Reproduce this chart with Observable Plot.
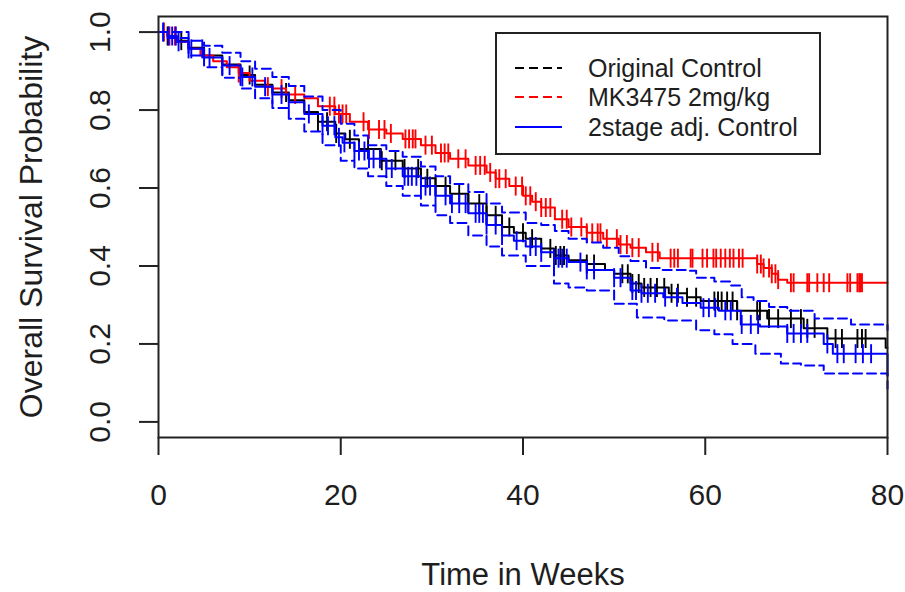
<!DOCTYPE html>
<html><head><meta charset="utf-8">
<script src="https://cdn.jsdelivr.net/npm/d3@7"></script>
<script src="https://cdn.jsdelivr.net/npm/@observablehq/plot@0.6"></script>
<style>
body{margin:0;background:#fff;}
#wrap{position:relative;width:905px;height:592px;overflow:hidden;}
#overlay{position:absolute;left:0;top:0;pointer-events:none;}
</style></head><body><div id="wrap"></div>
<script>
// ---- data ----
const xTicks = [0, 20, 40, 60, 80];
const yTicks = [0, 0.2, 0.4, 0.6, 0.8, 1.0];

// Original Control (black)
const blackT = [0,1,2,3.3,5,7,9,10.6,12.5,14.3,16,17.5,19.4,20.5,22,24.4,26.8,28.8,30.4,32,34,36,37.7,39,40.3,42,43.4,45,47,49,50,51.8,53,56,58,59.5,63.5,66.8,70.8,73.4,79.8,80];
const blackS = [1,0.99,0.978,0.96,0.94,0.917,0.89,0.865,0.845,0.825,0.795,0.77,0.74,0.725,0.70,0.67,0.65,0.625,0.605,0.585,0.56,0.53,0.50,0.485,0.47,0.445,0.427,0.415,0.405,0.39,0.38,0.355,0.345,0.33,0.32,0.31,0.285,0.265,0.24,0.214,0.19,0.19];
const blackC = [1,2.5,10,14,17.5,18.5,19.5,21,23,24.5,26,27,28.5,29.5,30.4,31.5,33,34,35.2,36,37,38.5,40,41,43,43.6,44.1,44.5,47,47.8,50.9,51.5,52,52.7,53.3,54,54.7,55.5,56.3,57,58,59,61,61.4,61.8,62.4,63,63.5,65.7,66,67,68,69.4,70.5,71.2,72,74.3,75,76.7,77.2,77.6];

// MK3475 2mg/kg (red)
const redT = [0,1,2,3.3,4.6,6,7.5,8.8,10,11.7,12.5,14,16,17.5,19.4,21,23,25,26.8,28.8,30.4,32,34,36,37,38.5,40,41,42,43.5,45,47,48.8,50.5,51.8,53.5,55,65.7,66.4,67.3,68,69,80];
const redS = [1,0.99,0.975,0.957,0.94,0.925,0.91,0.895,0.875,0.86,0.855,0.84,0.83,0.81,0.79,0.77,0.75,0.74,0.726,0.71,0.69,0.675,0.658,0.64,0.624,0.605,0.58,0.565,0.55,0.52,0.50,0.485,0.47,0.455,0.447,0.435,0.42,0.405,0.395,0.38,0.365,0.357,0.357];
const redC = [0.6,1.2,1.8,8.8,12,13.5,15,18.8,19.3,19.8,20.2,20.6,22.5,23.1,24.2,24.8,25.5,27.1,27.5,27.9,28.2,29.3,30,31,31.4,31.8,32.9,33.7,34.8,35.3,35.8,36.4,37,37.4,38.1,39.2,39.9,40.3,40.8,41.4,42,42.5,43,44.3,44.8,45.3,46.4,47,47.6,48.2,48.5,49.2,50.3,50.7,51.4,52,52.7,54.2,54.8,56.2,56.6,57,58.4,58.6,59.7,60.2,60.9,61.2,61.7,62.2,62.7,63.1,63.7,64.1,65.7,66.1,66.4,67,67.3,67.7,68,69.4,69.7,71.2,71.4,72.3,73,73.6,75.6,75.9,76.7,76.9,77,77.2];

// 2stage adj. Control (blue) with confidence band
const blueT = [0,1,2,3.3,5,7,9,10.6,12.5,14.3,16,18,19.4,20.2,21.5,23,25,26.8,28.8,30.4,32,34,36,37.7,39,40.3,42,43.4,45,47,50,51.8,53,55.4,57.5,59.5,61.5,63.9,66,69,73,74,80];
const blueS = [1,0.99,0.975,0.957,0.935,0.914,0.885,0.86,0.84,0.82,0.79,0.76,0.73,0.716,0.695,0.675,0.65,0.63,0.605,0.58,0.56,0.535,0.505,0.478,0.465,0.45,0.435,0.42,0.41,0.39,0.37,0.337,0.33,0.32,0.305,0.293,0.285,0.25,0.245,0.227,0.20,0.175,0.12];
const blueC = [0.5,1.1,1.5,1.9,2.2,3.3,3.6,4.8,5.6,7,7.8,9.2,10.3,11.7,12.5,13.5,14.3,16.5,18,18.6,19.3,19.8,20.4,21.5,22,22.6,23.1,23.6,24.3,25,25.6,27,27.4,27.8,28.3,28.8,29.3,29.8,30.4,31.5,32.2,33,33.7,34.8,35.2,35.6,36,37,37.7,39.3,40.8,41.4,42,43.4,43.9,44.3,44.8,46.3,47,47.8,50,50.7,52,52.4,53,53.7,54.5,55.6,56.9,59.8,60.4,61.1,62.2,62.8,64,65,65.8,69,69.7,70.5,71.2,73.4,74.5,75.2,76.5,77.3,78.2];
const upperT = [0,1,3.3,5,7,9,10.6,12.5,14.3,16,18,20,21.5,23,25,26.8,28.8,30.4,32,34,36,37.7,40.3,42,43.5,45,47,48.8,50.5,51.8,53.5,55,58,59,61,62.8,64,65.3,67,69,72,76,80];
const upperS = [1,1,0.978,0.965,0.947,0.925,0.906,0.885,0.862,0.835,0.80,0.765,0.735,0.71,0.695,0.68,0.655,0.63,0.61,0.59,0.56,0.537,0.51,0.505,0.49,0.47,0.46,0.447,0.425,0.413,0.395,0.39,0.388,0.37,0.36,0.35,0.32,0.31,0.295,0.285,0.265,0.25,0.235];
const lowerT = [0,1,3.3,5,7,9,10.6,12.5,14.3,16,18,20,21.5,23,25,26.8,28.8,30.4,32,34,36,37.7,40.3,43.4,45,47,50,52.5,55.5,59,61,63,65.5,68.3,70.5,73,80];
const lowerS = [1,0.985,0.94,0.91,0.883,0.855,0.83,0.805,0.778,0.745,0.71,0.67,0.65,0.63,0.605,0.58,0.555,0.53,0.51,0.478,0.45,0.427,0.40,0.355,0.345,0.337,0.303,0.268,0.26,0.235,0.225,0.20,0.175,0.15,0.145,0.124,0.085];

const legendLabels = ["Original Control", "MK3475 2mg/kg", "2stage adj. Control"];
const legendColors = ["#000000", "#ff0000", "#0000ff"];
const legendDashed = [true, true, false];

// ---- helpers ----
const FONT = '"Liberation Sans", Arial, Helvetica, sans-serif';
const TXT = "#1e1e1e";
const rows = (T, S) => T.map((t, i) => ({t, s: S[i]}));
const stepAt = (T, S, t) => S[Math.max(0, d3.bisectRight(T, t) - 1)];
const cens = (C, T, S) => C.map(t => ({t, s: stepAt(T, S, t)}));
const vbar = {draw(ctx, size) { const r = Math.sqrt(size / Math.PI); ctx.moveTo(0, -r); ctx.lineTo(0, r); }};

function curve(T, S, C, color) {
  return [
    Plot.line(rows(T, S), {x: "t", y: "s", curve: "step-after", stroke: color, strokeWidth: 2}),
    Plot.dot(cens(C, T, S), {x: "t", y: "s", symbol: vbar, r: 9.5, stroke: color, strokeWidth: 1.9, fill: "none"})
  ];
}

const chart = Plot.plot({
  width: 905, height: 592,
  marginLeft: 158, marginRight: 18, marginTop: 16, marginBottom: 155,
  x: {domain: [0, 80]},
  y: {domain: [-0.04, 1.04]},
  style: {fontFamily: FONT, background: "#fff", color: TXT},
  marks: [
    Plot.axisX(xTicks, {tickSize: 18, strokeWidth: 2, stroke: "#222", tickFormat: () => "", label: null}),
    Plot.axisY(yTicks, {tickSize: 19, strokeWidth: 2, stroke: "#222", tickFormat: () => "", label: null}),
    Plot.text(xTicks, {x: d => d, frameAnchor: "bottom", dy: 58, text: d => String(d), fontSize: 30, fill: TXT, lineAnchor: "middle"}),
    Plot.text(yTicks, {y: d => d, frameAnchor: "left", dx: -58, rotate: -90, text: d => d.toFixed(1), fontSize: 30, fill: TXT, textAnchor: "middle", lineAnchor: "middle"}),
    Plot.text(["Time in Weeks"], {frameAnchor: "bottom", dy: 138, text: d => d, fontSize: 31, fill: TXT, lineAnchor: "middle"}),
    Plot.text(["Overall Survival Probability"], {frameAnchor: "left", dx: -127, rotate: -90, text: d => d, fontSize: 32, fill: TXT, textAnchor: "middle", lineAnchor: "middle"}),
    ...curve(blackT, blackS, blackC, "#000000"),
    ...curve(redT, redS, redC, "#ff0000"),
    ...curve(blueT, blueS, blueC, "#0000ff"),
    Plot.line(rows(upperT, upperS), {x: "t", y: "s", curve: "step-after", stroke: "#0000ff", strokeWidth: 2, strokeDasharray: "9,5"}),
    Plot.line(rows(lowerT, lowerS), {x: "t", y: "s", curve: "step-after", stroke: "#0000ff", strokeWidth: 2, strokeDasharray: "9,5"}),
    Plot.frame({stroke: "#222", strokeWidth: 2})
  ]
});

const wrap = document.getElementById("wrap");
wrap.appendChild(chart);

// legend overlay
const svg = d3.select(wrap).append("svg").attr("id", "overlay").attr("width", 905).attr("height", 592);
svg.append("rect").attr("x", 496).attr("y", 33).attr("width", 324).attr("height", 121)
  .attr("fill", "#fff").attr("stroke", "#222").attr("stroke-width", 2);
const rowY = [68, 97, 127];
legendLabels.forEach((lab, i) => {
  svg.append("line").attr("x1", 515).attr("x2", 562).attr("y1", rowY[i]).attr("y2", rowY[i])
    .attr("stroke", legendColors[i]).attr("stroke-width", 2)
    .attr("stroke-dasharray", legendDashed[i] ? "9,5" : null);
  svg.append("text").attr("x", 588).attr("y", rowY[i]).attr("dy", "0.35em")
    .attr("font-family", FONT).attr("font-size", 25).attr("fill", TXT).text(lab);
});
</script></body></html>
